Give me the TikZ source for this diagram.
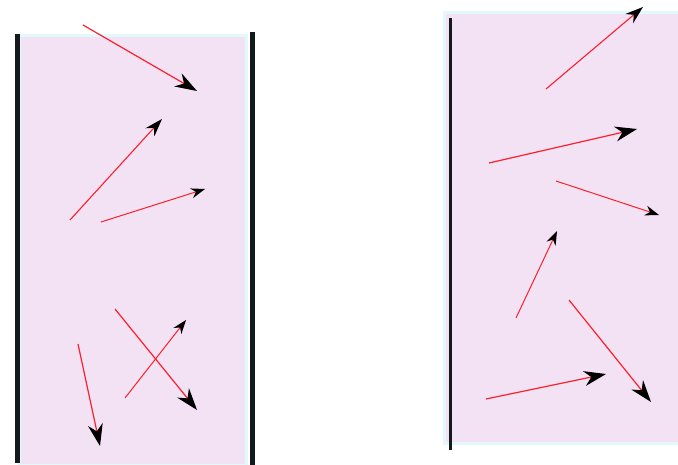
\documentclass[tikz,border=0pt]{standalone}
\usetikzlibrary{arrows.meta}
\definecolor{boxfill}{RGB}{242,226,244}
\definecolor{boxedge}{RGB}{226,248,250}
\definecolor{wall}{RGB}{18,26,30}
\definecolor{vec}{RGB}{255,30,45}
\tikzset{
  box/.style={fill=boxfill, draw=boxedge, line width=3pt},
  thickwall/.style={draw=wall, line width=5pt},
  thinwall/.style={draw=wall, line width=3pt},
  vecbig/.style={draw=vec, line width=1.2pt, -{Stealth[black, length=22pt, width=15pt, inset=7pt]}},
  vecmid/.style={draw=vec, line width=1.1pt, -{Stealth[black, length=18pt, width=12pt, inset=6pt]}},
  vecsmall/.style={draw=vec, line width=1pt, -{Stealth[black, length=14pt, width=10pt, inset=4.5pt]}}
}
\begin{document}
\begin{tikzpicture}[x=1pt, y=-1pt]
\useasboundingbox (0,0) rectangle (678,465);
% left container
\draw[box] (19,36) rectangle (246,465);
\draw[thickwall] (17,34) -- (17,463);
\draw[thickwall] (252.5,32) -- (252.5,465);
% right container
\draw[box] (444,13) rectangle (681,443);
\draw[thinwall] (450.5,18) -- (450.5,450);
% left vectors
\coordinate (a1) at (83,25);  \coordinate (b1) at (197,91);
\coordinate (a2) at (70,220); \coordinate (b2) at (162,119);
\coordinate (a3) at (101,222);\coordinate (b3) at (205,189);
\coordinate (a4) at (78,344); \coordinate (b4) at (100,446);
\coordinate (a5) at (115,309);\coordinate (b5) at (197,410);
\coordinate (a6) at (125,398);\coordinate (b6) at (186,320);
% right vectors
\coordinate (a7) at (546,89);  \coordinate (b7) at (643,7);
\coordinate (a8) at (489,163); \coordinate (b8) at (637,129);
\coordinate (a9) at (556,181); \coordinate (b9) at (659,215);
\coordinate (a10) at (516,318);\coordinate (b10) at (557,231);
\coordinate (a11) at (569,300);\coordinate (b11) at (651,402);
\coordinate (a12) at (486,399);\coordinate (b12) at (606,374);
\draw[vecbig] (a1) -- (b1);
\draw[vecmid] (a2) -- (b2);
\draw[vecsmall] (a3) -- (b3);
\draw[vecbig] (a4) -- (b4);
\draw[vecbig] (a5) -- (b5);
\draw[vecsmall] (a6) -- (b6);
\draw[vecmid] (a7) -- (b7);
\draw[vecbig] (a8) -- (b8);
\draw[vecsmall] (a9) -- (b9);
\draw[vecsmall] (a10) -- (b10);
\draw[vecbig] (a11) -- (b11);
\draw[vecbig] (a12) -- (b12);
\end{tikzpicture}
\end{document}
